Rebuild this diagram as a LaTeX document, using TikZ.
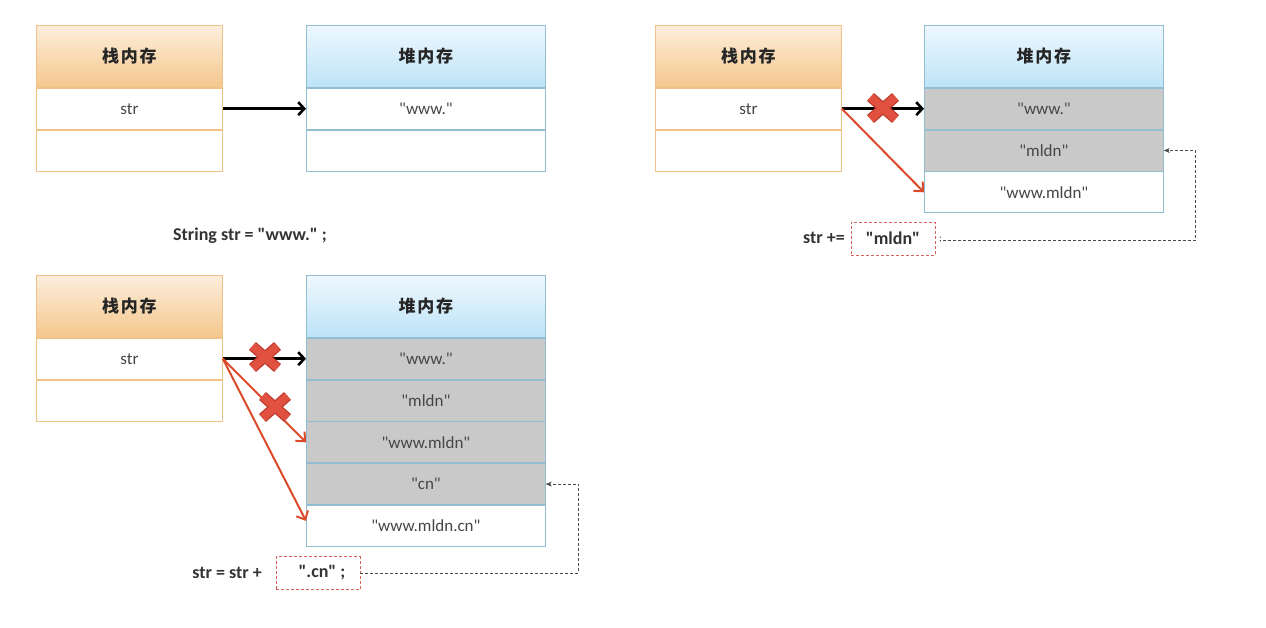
\documentclass[tikz,border=0pt]{standalone}
\usepackage{fontspec}
\setmainfont{Carlito}[Ligatures=TeXOff]
\newfontfamily\cjk{Noto Sans CJK SC}[LetterSpace=10]
\usetikzlibrary{arrows.meta,backgrounds}
\definecolor{stackbd}{HTML}{F0C288}
\definecolor{stacktop}{HTML}{FCEEDC}
\definecolor{stackbot}{HTML}{F5C78C}
\definecolor{heapbd}{HTML}{93BDD0}
\definecolor{heaptop}{HTML}{EEF8FE}
\definecolor{heapbot}{HTML}{BDE3F7}
\definecolor{greyfill}{HTML}{C9C9C9}
\definecolor{txt}{HTML}{454545}
\definecolor{redarr}{HTML}{DB4A2B}
\definecolor{crossred}{HTML}{E0513F}
\definecolor{crossdark}{HTML}{BF3A2E}
\definecolor{dashred}{HTML}{D9625A}
\tikzset{
  cellbase/.style={anchor=north west, inner sep=0pt, line width=0.8pt},
  stackhead/.style={cellbase, draw=stackbd, top color=stacktop, bottom color=stackbot,
    minimum width=186pt, minimum height=62pt, font=\cjk\bfseries\fontsize{17}{17}\selectfont, text=black!85},
  stackcell/.style={cellbase, draw=stackbd, fill=white, minimum width=186pt, minimum height=41pt,
    font=\fontsize{17}{17}\selectfont, text=txt},
  heaphead/.style={cellbase, draw=heapbd, top color=heaptop, bottom color=heapbot,
    minimum width=239pt, minimum height=62pt, font=\cjk\bfseries\fontsize{17}{17}\selectfont, text=black!85},
  heapcell/.style={cellbase, draw=heapbd, fill=white, minimum width=239pt, minimum height=41pt,
    font=\fontsize{17}{17}\selectfont, text=txt},
  greycell/.style={heapcell, fill=greyfill},
  code/.style={font=\bfseries\fontsize{18}{18}\selectfont, text=black!80, inner sep=1pt},
  dashbox/.style={draw=dashred, densely dashed, line width=0.8pt, fill=white, minimum width=84pt,
    minimum height=33pt, inner sep=0pt, font=\bfseries\fontsize{18}{18}\selectfont, text=black!80},
  ptr/.style={line width=2.6pt, black, -{Straight Barb[length=6pt,width=13pt]}},
  redptr/.style={line width=2pt, redarr, -{Straight Barb[length=7pt,width=13pt]}},
  conn/.style={densely dashed, line width=0.7pt, black!70, -{Stealth[length=6pt,width=5pt]}},
  shadowbox/.style={fill=black!12},
  xcross/.pic={
    \draw[line width=10.5pt, crossdark] (-12.5,-11) -- (12.5,11) (-12.5,11) -- (12.5,-11);
    \draw[line width=8pt, crossred] (-12.5,-11) -- (12.5,11) (-12.5,11) -- (12.5,-11);
  }
}
\begin{document}
\begin{tikzpicture}[x=1pt,y=-1pt]
\useasboundingbox[fill=white] (0,0) rectangle (1266,628);

% ---------- top-left ----------
\node[stackhead] (s1h) at (36,25) {栈内存};
\node[stackcell] (s1c1) at (s1h.south west) {str};
\node[stackcell] (s1c2) at (s1c1.south west) {};
\node[heaphead] (h1h) at (306,25) {堆内存};
\node[heapcell] (h1c1) at (h1h.south west) {"www."};
\node[heapcell] (h1c2) at (h1c1.south west) {};
\draw[ptr] (s1c1.east) -- (h1c1.west);
\node[code, anchor=west] (c1) at (172,236) {String str = "www." ;};

% ---------- top-right ----------
\node[stackhead] (s2h) at (655,25) {栈内存};
\node[stackcell] (s2c1) at (s2h.south west) {str};
\node[stackcell] (s2c2) at (s2c1.south west) {};
\node[heaphead] (h2h) at (924,25) {堆内存};
\node[greycell] (h2c1) at (h2h.south west) {"www."};
\node[greycell] (h2c2) at (h2c1.south west) {"mldn"};
\node[heapcell] (h2c3) at (h2c2.south west) {"www.mldn"};
\draw[ptr] (s2c1.east) -- (h2c1.west);
\pic at (883,108) {xcross};
\draw[redptr] (s2c1.east) -- (h2c3.west);
\node[code, anchor=east] (c2) at (846,238) {str +=};
\node[dashbox] (b2) at (893,238.5) {"mldn"};
\node[code, anchor=west, font=\fontsize{10}{10}\selectfont] (semi2) at (938,240) {;};
\draw[conn] (semi2.east) -| ([xshift=32pt]h2c2.east) -- (h2c2.east);

% ---------- bottom-left ----------
\node[stackhead] (s3h) at (36,275) {栈内存};
\node[stackcell] (s3c1) at (s3h.south west) {str};
\node[stackcell] (s3c2) at (s3c1.south west) {};
\node[heaphead] (h3h) at (306,275) {堆内存};
\node[greycell] (h3c1) at (h3h.south west) {"www."};
\node[greycell] (h3c2) at (h3c1.south west) {"mldn"};
\node[greycell] (h3c3) at (h3c2.south west) {"www.mldn"};
\node[greycell] (h3c4) at (h3c3.south west) {"cn"};
\node[heapcell] (h3c5) at (h3c4.south west) {"www.mldn.cn"};
\draw[ptr] (s3c1.east) -- (h3c1.west);
\draw[redptr] (s3c1.east) -- (h3c3.west);
\draw[redptr] (s3c1.east) -- ([yshift=5pt]h3c5.west);
\pic at (265,357) {xcross};
\pic at (275,407) {xcross};
\node[code, anchor=east] (c3) at (263,573) {str = str +};
\node[dashbox] (b3) at (318,573) {\hspace*{8pt}".cn" ;};
\draw[conn] (b3.east) -| ([xshift=33pt]h3c4.east) -- (h3c4.east);

% ---------- shadows ----------
\begin{scope}[on background layer]
\fill[shadowbox] ([shift={(2.5,2.5)}]s1h.north west) rectangle ([shift={(2.5,2.5)}]s1c2.south east);
\fill[shadowbox] ([shift={(2.5,2.5)}]h1h.north west) rectangle ([shift={(2.5,2.5)}]h1c2.south east);
\fill[shadowbox] ([shift={(2.5,2.5)}]s2h.north west) rectangle ([shift={(2.5,2.5)}]s2c2.south east);
\fill[shadowbox] ([shift={(2.5,2.5)}]h2h.north west) rectangle ([shift={(2.5,2.5)}]h2c3.south east);
\fill[shadowbox] ([shift={(2.5,2.5)}]s3h.north west) rectangle ([shift={(2.5,2.5)}]s3c2.south east);
\fill[shadowbox] ([shift={(2.5,2.5)}]h3h.north west) rectangle ([shift={(2.5,2.5)}]h3c5.south east);
\end{scope}
\end{tikzpicture}
\end{document}
